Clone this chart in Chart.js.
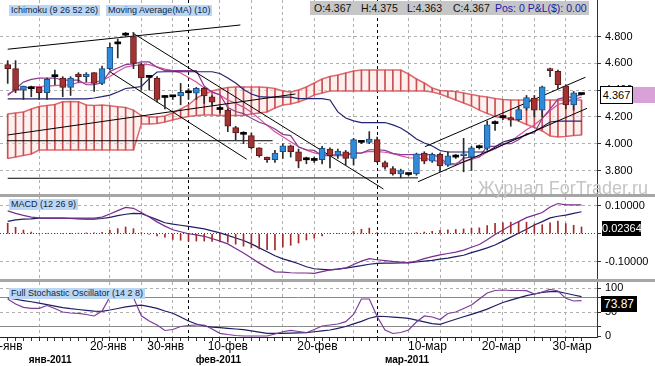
<!DOCTYPE html>
<html>
<head>
<meta charset="utf-8">
<title>Ichimoku / MACD / Stochastic</title>
<script src="https://cdn.jsdelivr.net/npm/chart.js@4.4.1/dist/chart.umd.min.js"></script>
<style>
  body { margin: 0; background: #fff; }
  #wrap { position: relative; width: 655px; height: 366px; overflow: hidden; background: #fff; font-family: "Liberation Sans", Arial, sans-serif; }
  #wrap canvas { position: absolute; left: 0; }
  .sep { position: absolute; left: 0; width: 655px; height: 3px; background: #a6a6a6; }
  .tag { position: absolute; background: #bcd7f3; color: #0f1f45; font-size: 9px; line-height: 11px; padding: 0 2px; white-space: nowrap; }
  .ohlc { position: absolute; left: 310px; top: 1px; width: 279px; height: 14px; background: #c6c6c6; }
  .ohlc span { position: absolute; top: 0; font-size: 10.5px; line-height: 14px; color: #111; white-space: nowrap; }
  .val { position: absolute; font-size: 11px; line-height: 15px; text-align: center; }
  .wm { position: absolute; left: 478px; top: 179px; font-size: 18px; line-height: 18px; color: #c4c4c4; white-space: nowrap; }
</style>
</head>
<body>
<div id="wrap">
  <canvas id="main-graph" width="655" height="194" style="top:0"></canvas>
  <div class="sep" style="top:194px"></div>
  <canvas id="macd-graph" width="655" height="82" style="top:197px"></canvas>
  <div class="sep" style="top:279px"></div>
  <canvas id="stoch-graph" width="655" height="84" style="top:282px"></canvas>

  <div class="tag" style="left:9px;top:5px">Ichimoku (9 26 52 26)</div>
  <div class="tag" style="left:106px;top:5px">Moving Average(MA) (10)</div>
  <div class="ohlc">
    <span style="left:4px">O:4.367</span>
    <span style="left:51px">H:4.375</span>
    <span style="left:97px">L:4.363</span>
    <span style="left:143px">C:4.367</span>
    <span style="left:185px;color:#1c1ca8">Pos: 0 P&amp;L($): 0.00</span>
  </div>
  <div class="val" style="left:600px;top:86px;width:31px;height:16px;border:1px solid #000;background:#fff;line-height:16px">4.367</div>
  <div style="position:absolute;left:633px;top:87px;width:22px;height:16px;background:#d9a2d6"></div>
  <div class="wm">Журнал ForTrader.ru</div>
  <div class="tag" style="left:9px;top:199px">MACD (12 26 9)</div>
  <div class="val" style="left:602px;top:221px;width:39px;height:15px;background:#000;color:#fff">0.02364</div>
  <div class="tag" style="left:9px;top:288px">Full Stochastic Oscillator (14 2 8)</div>
  <div class="val" style="left:601px;top:296px;width:36px;height:16px;line-height:16px;background:#000;color:#fff;font-size:12px">73.87</div>
</div>

<script>
// Daily candles (74 bars)
const open = [4.59, 4.56, 4.40, 4.415, 4.42, 4.38, 4.50, 4.49, 4.42, 4.52,
  4.50, 4.53, 4.45, 4.56, 4.745, 4.81, 4.80, 4.59, 4.495, 4.49,
  4.345, 4.35, 4.356, 4.38, 4.377, 4.413, 4.35, 4.26, 4.25, 4.12,
  4.07, 4.06, 3.97, 3.90, 3.88, 3.94, 3.985, 3.94, 3.88, 3.875,
  3.88, 3.96, 3.915, 3.94, 3.89, 4.01, 4.01, 4.03, 3.86, 3.815,
  3.775, 3.77, 3.775, 3.93, 3.87, 3.92, 3.84, 3.90, 3.91, 3.90,
  3.97, 3.965, 4.15, 4.20, 4.195, 4.18, 4.265, 4.34, 4.25, 4.56,
  4.54, 4.43, 4.29, 4.367];
const high = [4.62, 4.62, 4.43, 4.43, 4.42, 4.49, 4.55, 4.50, 4.50, 4.53,
  4.53, 4.53, 4.58, 4.75, 4.78, 4.83, 4.83, 4.60, 4.51, 4.50,
  4.36, 4.36, 4.45, 4.41, 4.42, 4.42, 4.36, 4.28, 4.26, 4.13,
  4.09, 4.08, 3.97, 3.90, 3.95, 4.00, 3.99, 3.96, 3.90, 3.90,
  3.98, 3.97, 3.96, 3.95, 4.04, 4.02, 4.09, 4.05, 3.87, 3.83,
  3.81, 3.78, 3.93, 3.94, 3.93, 3.93, 3.94, 3.92, 4.04, 3.98,
  3.99, 4.17, 4.17, 4.21, 4.20, 4.27, 4.36, 4.36, 4.43, 4.565,
  4.55, 4.44, 4.39, 4.375];
const low = [4.45, 4.38, 4.33, 4.35, 4.33, 4.33, 4.44, 4.35, 4.36, 4.46,
  4.46, 4.39, 4.44, 4.55, 4.64, 4.80, 4.56, 4.40, 4.40, 4.31,
  4.26, 4.33, 4.29, 4.33, 4.33, 4.30, 4.28, 4.23, 4.09, 4.03,
  4.00, 3.96, 3.90, 3.86, 3.86, 3.89, 3.90, 3.82, 3.85, 3.86,
  3.85, 3.82, 3.89, 3.84, 3.84, 4.00, 4.00, 3.86, 3.81, 3.765,
  3.745, 3.76, 3.765, 3.85, 3.86, 3.79, 3.83, 3.89, 3.79, 3.80,
  3.96, 3.95, 4.10, 4.18, 4.13, 4.17, 4.25, 4.20, 4.20, 4.50,
  4.41, 4.26, 4.25, 4.363];
const close = [4.56, 4.40, 4.43, 4.41, 4.38, 4.48, 4.50, 4.42, 4.49, 4.50,
  4.52, 4.45, 4.56, 4.72, 4.75, 4.81, 4.60, 4.49, 4.50, 4.33,
  4.35, 4.35, 4.383, 4.38, 4.413, 4.356, 4.31, 4.255, 4.13, 4.08,
  4.07, 3.97, 3.91, 3.88, 3.93, 3.985, 3.94, 3.87, 3.88, 3.88,
  3.965, 3.91, 3.945, 3.89, 4.03, 4.01, 4.035, 3.866, 3.825, 3.775,
  3.80, 3.77, 3.925, 3.87, 3.92, 3.835, 3.91, 3.905, 3.925, 3.97,
  3.975, 4.14, 4.155, 4.195, 4.175, 4.255, 4.345, 4.25, 4.425, 4.545,
  4.44, 4.29, 4.38, 4.367];

// Ichimoku lines and MA(10)
const tenkan = [4.36, 4.41, 4.46, 4.48, 4.49, 4.49, 4.49, 4.475, 4.475, 4.475,
  4.44, 4.44, 4.455, 4.54, 4.565, 4.59, 4.595, 4.61, 4.61, 4.57,
  4.545, 4.545, 4.545, 4.545, 4.545, 4.43, 4.385, 4.365, 4.27, 4.24,
  4.225, 4.19, 4.16, 4.14, 4.11, 4.07, 4.06, 3.975, 3.955, 3.95,
  3.91, 3.91, 3.91, 3.91, 3.93, 3.93, 3.955, 3.955, 3.95, 3.928,
  3.918, 3.918, 3.918, 3.918, 3.918, 3.898, 3.843, 3.843, 3.893, 3.90,
  3.903, 3.98, 3.98, 4.00, 4.00, 4.03, 4.075, 4.08, 4.19, 4.258,
  4.333, 4.348, 4.348, 4.368];
const kijun = [4.334, 4.334, 4.334, 4.334, 4.334, 4.334, 4.334, 4.334, 4.334, 4.334,
  4.334, 4.341, 4.351, 4.363, 4.386, 4.412, 4.419, 4.427, 4.486, 4.535,
  4.537, 4.537, 4.537, 4.537, 4.537, 4.537, 4.537, 4.524, 4.490, 4.453,
  4.405, 4.371, 4.351, 4.348, 4.348, 4.348, 4.348, 4.337, 4.337, 4.337,
  4.337, 4.326, 4.237, 4.192, 4.170, 4.158, 4.158, 4.158, 4.158, 4.140,
  4.117, 4.080, 4.035, 4.005, 3.983, 3.949, 3.938, 3.938, 3.938, 3.938,
  3.938, 3.938, 3.975, 4.013, 4.028, 4.043, 4.065, 4.091, 4.125, 4.162,
  4.169, 4.169, 4.169, 4.169];
const spanA = [4.222, 4.229, 4.237, 4.259, 4.278, 4.285, 4.293, 4.313, 4.315, 4.313,
  4.289, 4.285, 4.289, 4.284, 4.276, 4.270, 4.251, 4.210, 4.199, 4.199,
  4.207, 4.229, 4.259, 4.289, 4.341, 4.371, 4.393, 4.408, 4.419, 4.423,
  4.423, 4.423, 4.423, 4.419, 4.412, 4.393, 4.386, 4.401, 4.423, 4.453,
  4.483, 4.502, 4.513, 4.528, 4.543, 4.550, 4.550, 4.550, 4.550, 4.550,
  4.550, 4.520, 4.483, 4.453, 4.416, 4.397, 4.393, 4.390, 4.378, 4.367,
  4.356, 4.348, 4.337, 4.330, 4.326, 4.326, 4.326, 4.326, 4.326, 4.326,
  4.326, 4.326, 4.326, 4.326];
const spanB = [3.890, 3.901, 3.912, 3.923, 3.953, 3.953, 3.953, 3.953, 3.953, 3.953,
  3.953, 3.953, 3.953, 3.953, 3.953, 3.953, 3.953, 4.147, 4.147, 4.151,
  4.162, 4.177, 4.192, 4.203, 4.210, 4.214, 4.214, 4.210, 4.210, 4.210,
  4.210, 4.222, 4.229, 4.237, 4.266, 4.289, 4.296, 4.311, 4.334, 4.363,
  4.378, 4.393, 4.393, 4.393, 4.393, 4.393, 4.393, 4.393, 4.393, 4.393,
  4.393, 4.393, 4.393, 4.393, 4.386, 4.371, 4.348, 4.326, 4.304, 4.281,
  4.251, 4.225, 4.203, 4.192, 4.188, 4.169, 4.143, 4.121, 4.095, 4.058,
  4.050, 4.054, 4.061, 4.065];
const ma10 = [4.371, 4.397, 4.416, 4.423, 4.427, 4.430, 4.434, 4.438, 4.440, 4.457,
  4.453, 4.458, 4.471, 4.502, 4.539, 4.572, 4.582, 4.589, 4.590, 4.573,
  4.556, 4.546, 4.528, 4.494, 4.461, 4.415, 4.386, 4.363, 4.326, 4.301,
  4.273, 4.235, 4.187, 4.137, 4.089, 4.052, 4.015, 3.977, 3.952, 3.932,
  3.921, 3.915, 3.919, 3.920, 3.930, 3.932, 3.942, 3.941, 3.936, 3.925,
  3.909, 3.895, 3.893, 3.891, 3.880, 3.862, 3.850, 3.854, 3.864, 3.883,
  3.901, 3.938, 3.961, 3.993, 4.019, 4.061, 4.104, 4.139, 4.189, 4.246,
  4.293, 4.308, 4.330, 4.347];

// MACD (12 26 9)
const macdLine = [0.081, 0.072, 0.065, 0.059, 0.056, 0.055, 0.055, 0.055, 0.055, 0.055,
  0.055, 0.055, 0.059, 0.070, 0.082, 0.093, 0.090, 0.075, 0.059, 0.042,
  0.027, 0.014, 0.007, 0.000, -0.004, -0.009, -0.017, -0.026, -0.036, -0.052,
  -0.068, -0.086, -0.104, -0.120, -0.135, -0.136, -0.138, -0.139, -0.139, -0.140,
  -0.134, -0.128, -0.125, -0.121, -0.109, -0.097, -0.088, -0.092, -0.095, -0.098,
  -0.100, -0.102, -0.097, -0.088, -0.081, -0.075, -0.070, -0.065, -0.058, -0.048,
  -0.038, -0.021, -0.003, 0.013, 0.029, 0.043, 0.057, 0.066, 0.075, 0.095,
  0.107, 0.102, 0.102, 0.102];
const signalLine = [0.044, 0.049, 0.052, 0.053, 0.055, 0.055, 0.055, 0.055, 0.054, 0.053,
  0.052, 0.052, 0.054, 0.058, 0.064, 0.069, 0.072, 0.071, 0.061, 0.050,
  0.039, 0.034, 0.030, 0.026, 0.022, 0.017, 0.010, 0.003, -0.006, -0.015,
  -0.024, -0.036, -0.050, -0.064, -0.078, -0.089, -0.097, -0.106, -0.117, -0.124,
  -0.126, -0.128, -0.125, -0.122, -0.117, -0.113, -0.108, -0.105, -0.104, -0.104,
  -0.103, -0.103, -0.100, -0.097, -0.094, -0.090, -0.086, -0.081, -0.076, -0.067,
  -0.059, -0.050, -0.040, -0.026, -0.012, 0.002, 0.016, 0.031, 0.043, 0.056,
  0.062, 0.066, 0.072, 0.078];
const macdHist = [0.037, 0.023, 0.013, 0.006, 0.001, 0, 0, 0, 0.001, 0.002,
  0.003, 0.003, 0.005, 0.012, 0.018, 0.024, 0.018, 0.004, -0.002, -0.008,
  -0.012, -0.020, -0.023, -0.026, -0.026, -0.026, -0.027, -0.029, -0.030, -0.037,
  -0.044, -0.050, -0.054, -0.056, -0.057, -0.047, -0.041, -0.033, -0.022, -0.016,
  -0.008, 0, 0, 0.001, 0.008, 0.016, 0.020, 0.004, 0.002, 0.001,
  0.001, 0.001, 0.004, 0.006, 0.009, 0.012, 0.014, 0.015, 0.017, 0.019,
  0.021, 0.029, 0.037, 0.039, 0.041, 0.041, 0.041, 0.035, 0.032, 0.039,
  0.045, 0.036, 0.030, 0.024];

// Full Stochastic (14 2 8)
const stochK = [77.1, 66.7, 59.8, 57.7, 57.7, 63.5, 57.3, 50.0, 47.9, 47.3,
  44.8, 41.7, 52.1, 81.3, 90.0, 88.0, 80.0, 42.0, 31.3, 22.9,
  11.5, 13.5, 19.8, 21.9, 22.9, 22.9, 14.6, 5.6, 3.1, 1.0,
  0, 0, 0, 0, 4.2, 8.8, 11.5, 9.4, 6.9, 13.5,
  20.8, 22.9, 25.0, 29.8, 44.8, 77.1, 77.1, 40.6, 12.5, 5.2,
  7.3, 12.5, 29.2, 41.7, 39.6, 34.4, 46.9, 50.0, 57.3, 64.6,
  77.1, 89.6, 94.8, 95.8, 94.8, 94.8, 94.6, 87.5, 91.7, 96.9,
  93.8, 78.5, 72.9, 73.87];
const stochD = [79.2, 76.5, 73.8, 71.3, 68.5, 65.4, 62.3, 59.2, 56.9, 55.2,
  53.5, 51.9, 51.5, 54.2, 57.3, 60.6, 62.9, 64.2, 61.3, 57.5,
  52.1, 47.5, 39.6, 31.3, 25.0, 20.8, 18.3, 17.3, 15.8, 14.6,
  13.1, 10.8, 8.1, 5.6, 5.6, 5.6, 6.0, 6.5, 6.9, 8.8,
  10.6, 12.5, 16.0, 19.8, 25.4, 30.6, 36.9, 41.0, 40.6, 39.4,
  38.1, 36.7, 33.1, 29.4, 25.8, 24.2, 29.6, 35.0, 40.0, 45.2,
  50.4, 56.0, 62.9, 69.8, 74.8, 79.4, 84.0, 87.5, 90.8, 92.3,
  92.3, 89.0, 85.4, 81.9];

// Axis ticks and labels (x in bar numbers)
const priceTicks = [3.8, 4.0, 4.2, 4.4, 4.6, 4.8];
const macdTicks = [-0.1, 0, 0.1];
const stochTicks = [0, 20, 50, 80, 100];
const gridBars = [4, 13, 17, 21, 27, 31, 35, 39, 44, 51, 55, 59, 63, 67, 71];
const monthBars = [23, 47];
const dateLabels = ['10-янв', '20-янв', '30-янв', '10-фев', '20-фев', '10-мар', '20-мар', '30-мар'];
const dateBars = [-0.45, 12.8, 20.1, 28.0, 39.4, 53.4, 62.8, 71.8];
const monthLabels = ['янв-2011', 'фев-2011', 'мар-2011'];
const monthBarsPos = [5.4, 26.8, 50.8];

// trend lines drawn on the chart: [bar, price, bar, price]
const trendLines = [
  [0.0, 4.705, 29.6, 4.886],
  [15.9, 4.826, 47.8, 3.662],
  [13.0, 4.537, 30.4, 3.884],
  [0.0, 4.065, 36.6, 4.371],
  [-0.1, 4.022, 33.7, 4.022],
  [0.0, 3.742, 52.2, 3.745],
  [53.1, 3.978, 73.5, 4.496],
  [52.2, 3.716, 73.7, 4.264]
];

const xMin = -0.98, xMax = 74.97;
const FONT = 'Liberation Sans';

function isDoji(i) { return Math.abs(close[i] - open[i]) < 0.007; }
function bodyColor(i) { return isDoji(i) ? '#000' : (close[i] > open[i] ? '#2f8ad9' : '#a33232'); }
function bodyBorder(i) { return close[i] > open[i] ? '#1d4f86' : '#5c1a1a'; }

function toPoints(values) { return values.map((v, i) => ({ x: i, y: v })); }

function lineSet(label, values, color, width) {
  return { label: label, data: toPoints(values), borderColor: color, borderWidth: width,
    pointRadius: 0, tension: 0, fill: false, order: 5 };
}

function barAxis(withTicks) {
  return {
    type: 'linear', min: xMin, max: xMax, offset: false,
    afterBuildTicks: s => {
      s.ticks = (withTicks ? open.map((v, i) => i) : gridBars.concat(monthBars)).map(v => ({ value: v }));
    },
    afterFit: s => { s.height = withTicks ? 4 : 0; s.paddingLeft = 0; s.paddingRight = 0; },
    ticks: { display: false },
    grid: {
      offset: false,
      color: c => !c.tick ? '#999' : monthBars.includes(c.tick.value) ? '#000' : gridBars.includes(c.tick.value) ? '#b0b0b0' : 'rgba(0,0,0,0)',
      drawTicks: withTicks, tickLength: 4, tickColor: '#333'
    },
    border: { display: withTicks, color: '#222', dash: [3, 3] }
  };
}

function valueAxis(min, max, ticks, label, gridColor, gridDash) {
  return {
    position: 'right', min: min, max: max,
    afterBuildTicks: s => { s.ticks = ticks.map(v => ({ value: v })); },
    afterFit: s => { s.width = 58; s.paddingTop = 0; s.paddingBottom = 0; },
    ticks: { callback: label, color: '#000', font: { family: FONT, size: 11 }, padding: 4, autoSkip: false },
    grid: { color: c => c.tick ? gridColor(c.tick.value) : '#999', tickLength: 4, tickColor: '#333' },
    border: { display: true, color: '#333', dash: c => c.tick ? gridDash(c.tick.value) : [] }
  };
}

function labelAxis(weight, positions, labels, height, pad, font) {
  return {
    type: 'linear', position: 'bottom', weight: weight, min: xMin, max: xMax, offset: false,
    afterBuildTicks: s => { s.ticks = positions.map(v => ({ value: v })); },
    afterFit: s => { s.height = height; s.paddingLeft = 0; s.paddingRight = 0; },
    grid: { display: false, drawTicks: false, offset: false },
    border: { display: false },
    ticks: { callback: (v, i) => labels[i], autoSkip: false, maxRotation: 0, minRotation: 0,
      padding: pad, color: '#000', font: font }
  };
}

const common = {
  responsive: false, animation: false, devicePixelRatio: 1, events: [],
  layout: { padding: 0 },
  plugins: { legend: { display: false }, tooltip: { enabled: false } }
};

// Price chart: candles + Ichimoku + MA
const canvas = document.getElementById('main-graph');
const main_graph = new Chart(canvas, {
  type: 'line',
  data: {
    datasets: [
      { label: 'Senkou A', data: toPoints(spanA), borderColor: 'rgba(214,70,80,0.8)', borderWidth: 1.5,
        pointRadius: 0, fill: false, order: 10 },
      { label: 'Senkou B', data: toPoints(spanB), borderColor: 'rgba(214,70,80,0.8)', borderWidth: 1.5,
        pointRadius: 0, fill: '-1', backgroundColor: 'rgba(255,226,226,0.5)', order: 10 },
      { type: 'bar', label: 'Cloud', data: spanA.map((a, i) => ({ x: i, y: [a, spanB[i]] })),
        backgroundColor: '#c85050', barThickness: 1, grouped: false, order: 9 },
      lineSet('Kijun', kijun, '#23236f', 1.2),
      lineSet('Tenkan', tenkan, '#8b3c92', 1.2),
      lineSet('MA(10)', ma10, '#d4509e', 1.2),
      ...trendLines.map(t => ({ label: 'trend', data: [{ x: t[0], y: t[1] }, { x: t[2], y: t[3] }],
        borderColor: '#000', borderWidth: 1, pointRadius: 0, fill: false, order: 4 })),
      { type: 'bar', label: 'Wicks', data: low.map((l, i) => ({ x: i, y: [l, high[i]] })),
        backgroundColor: '#2b2b2b', barThickness: 1, grouped: false, order: 2 },
      { type: 'bar', label: 'Bodies', data: open.map((o, i) => ({ x: i, y: [o, close[i]] })),
        backgroundColor: c => bodyColor(c.dataIndex), borderColor: c => bodyBorder(c.dataIndex),
        borderWidth: c => isDoji(c.dataIndex) ? 0 : 1, borderSkipped: false, minBarLength: 2,
        barThickness: 6, grouped: false, order: 1 }
    ]
  },
  options: Object.assign({}, common, {
    scales: {
      x: barAxis(false),
      y: valueAxis(3.6246, 5.0724, priceTicks, v => v.toFixed(3), v => '#b0b0b0', v => [3, 3])
    }
  })
});

// MACD Chart
const canvass = document.getElementById('macd-graph');
const macd_graph = new Chart(canvass, {
  type: 'line',
  data: {
    datasets: [
      { type: 'bar', label: 'Histogram', data: toPoints(macdHist), backgroundColor: '#a32b2b',
        barThickness: 1, grouped: false, order: 3 },
      lineSet('MACD', macdLine, '#7b2d8e', 1.2),
      lineSet('Signal', signalLine, '#1e1e66', 1.2)
    ]
  },
  options: Object.assign({}, common, {
    scales: {
      x: barAxis(false),
      y: valueAxis(-0.1602, 0.1301, macdTicks, v => v === 0 ? '' : v.toFixed(5),
        v => v === 0 ? '#8c2020' : '#b0b0b0', v => v === 0 ? [1, 2] : [3, 3])
    }
  })
});

// Stochastic Chart with the date axis
const canvasss = document.getElementById('stoch-graph');
const stoch_graph = new Chart(canvasss, {
  type: 'line',
  data: {
    datasets: [
      lineSet('%K', stochK, '#7b3d9a', 1.2),
      lineSet('%D', stochD, '#1e1e66', 1.2)
    ]
  },
  options: Object.assign({}, common, {
    scales: {
      x: barAxis(true),
      xDates: labelAxis(1, dateBars, dateLabels, 12, 0, { family: FONT, size: 12, lineHeight: 1 }),
      xMonths: labelAxis(2, monthBarsPos, monthLabels, 13, 2, { family: FONT, size: 10, weight: 'bold', lineHeight: 1 }),
      y: valueAxis(-2.083, 112.5, stochTicks, v => v % 50 === 0 ? String(v) : '',
        v => (v === 20 || v === 80) ? '#8a8a8a' : v === 0 ? 'rgba(0,0,0,0)' : '#b0b0b0',
        v => (v === 20 || v === 80) ? [] : [3, 3])
    }
  })
});
</script>
</body>
</html>
